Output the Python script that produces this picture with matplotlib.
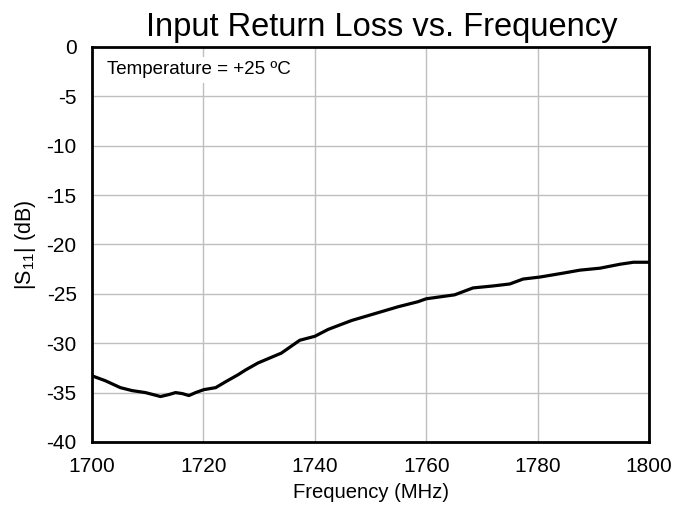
import matplotlib
matplotlib.use('Agg')
import matplotlib.pyplot as plt

plt.rcParams['font.family'] = ['Liberation Sans', 'DejaVu Sans']
plt.rcParams['mathtext.fontset'] = 'custom'
plt.rcParams['mathtext.rm'] = 'Liberation Sans'
plt.rcParams['mathtext.it'] = 'Liberation Sans'
plt.rcParams['axes.unicode_minus'] = False

# S11 curve
freq = [1700, 1702.4, 1705.1, 1707.2, 1709.6, 1712.3, 1713.8, 1715.0, 1716.2,
        1717.4, 1718.6, 1720.1, 1722.2, 1724.0, 1726.2, 1727.6, 1729.8, 1734.0,
        1737.3, 1740, 1742.4, 1746.6, 1751.4, 1755.0, 1758.5, 1760, 1765.1,
        1768.4, 1772, 1775, 1777.4, 1780.4, 1784.6, 1787.6, 1791.2, 1794.8,
        1797.2, 1800]
s11 = [-33.3, -33.8, -34.5, -34.8, -35.0, -35.4, -35.2, -35.0, -35.1,
       -35.3, -35.0, -34.7, -34.5, -33.9, -33.2, -32.7, -32.0, -31.0,
       -29.7, -29.3, -28.6, -27.7, -26.9, -26.3, -25.8, -25.5, -25.1,
       -24.4, -24.2, -24.0, -23.5, -23.3, -22.9, -22.6, -22.4, -22.0,
       -21.8, -21.8]

xticks = [1700, 1720, 1740, 1760, 1780, 1800]
yticks = [0, -5, -10, -15, -20, -25, -30, -35, -40]

fig = plt.figure(figsize=(6.89, 5.08), dpi=100)
ax = fig.add_axes([0.1335, 0.130, 0.8085, 0.7775])

ax.plot(freq, s11, color='black', linewidth=2.3, zorder=3)

ax.set_xlim(1700, 1800)
ax.set_ylim(-40, 0)
ax.set_xticks(xticks)
ax.set_yticks(yticks)
ax.grid(True, color='#BFBFBF', linewidth=1)
ax.set_axisbelow(True)
ax.tick_params(length=0, labelsize=15, pad=11)
for s in ax.spines.values():
    s.set_linewidth(2)
    s.set_color('black')

ax.set_title('Input Return Loss vs. Frequency', fontsize=23.5, pad=8, x=0.52)
ax.set_xlabel('Frequency (MHz)', fontsize=14.6, labelpad=5)
ax.set_ylabel(r'|S$_{11}$| (dB)', fontsize=15.5, labelpad=6)

ax.text(0.027, 0.942, 'Temperature = +25 ºC', transform=ax.transAxes,
        fontsize=13.5, ha='left', va='center', zorder=4,
        bbox=dict(facecolor='white', edgecolor='none', pad=3))

fig.savefig('out.png', dpi=100)
